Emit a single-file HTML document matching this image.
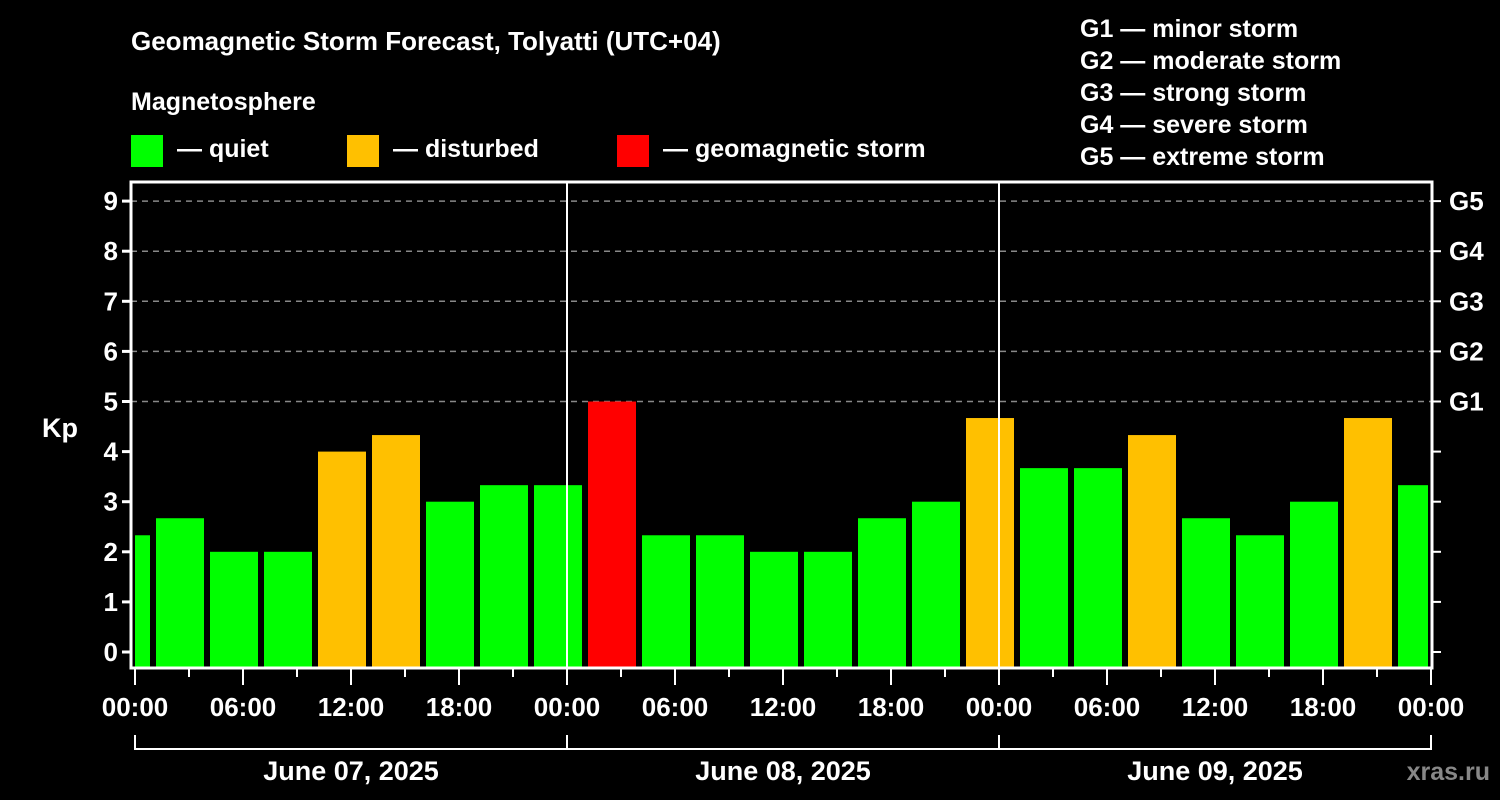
<!DOCTYPE html>
<html><head><meta charset="utf-8"><style>
html,body{margin:0;padding:0;background:#000;}
svg{display:block;font-family:"Liberation Sans",Arial,sans-serif;font-weight:bold;}
</style></head><body>
<svg id="chart" width="1500" height="800" viewBox="0 0 1500 800">
<rect width="1500" height="800" fill="#000"/>
<text x="131" y="50" fill="#fff" font-size="26">Geomagnetic Storm Forecast, Tolyatti (UTC+04)</text>
<text x="131" y="110" fill="#fff" font-size="25">Magnetosphere</text>
<g><rect x="131" y="135" width="32" height="32" fill="#00ff00"/><text x="177" y="157" fill="#fff" font-size="25">— quiet</text></g>
<g><rect x="347" y="135" width="32" height="32" fill="#ffc000"/><text x="393" y="157" fill="#fff" font-size="25">— disturbed</text></g>
<g><rect x="617" y="135" width="32" height="32" fill="#ff0000"/><text x="663" y="157" fill="#fff" font-size="25">— geomagnetic storm</text></g>
<g fill="#fff" font-size="25">
<text x="1080" y="37">G1 — minor storm</text>
<text x="1080" y="69">G2 — moderate storm</text>
<text x="1080" y="101">G3 — strong storm</text>
<text x="1080" y="133">G4 — severe storm</text>
<text x="1080" y="165">G5 — extreme storm</text>
</g>
<text x="42" y="437" fill="#fff" font-size="27">Kp</text>
<g id="grid"></g><g id="bars"></g><g id="axes"></g>
<text x="1490" y="780" fill="#888" font-size="25" text-anchor="end">xras.ru</text>
</svg>
<script>
const kpValues=[2.33,2.67,2,2,4,4.33,3,3.33,3.33,5,2.33,2.33,2,2,2.67,3,4.67,3.67,3.67,4.33,2.67,2.33,3,4.67,3.33];
const yTicks=[0,1,2,3,4,5,6,7,8,9];
const gLabels=["G1","G2","G3","G4","G5"];
const xTickLabels=["00:00","06:00","12:00","18:00","00:00","06:00","12:00","18:00","00:00","06:00","12:00","18:00","00:00"];
const dayLabels=["June 07, 2025","June 08, 2025","June 09, 2025"];
const NS="http://www.w3.org/2000/svg";
const L=131,R=1432,T=182,B=668,X0=135,PXH=18;
const xH=h=>X0+h*PXH;
const yK=k=>652-k*50.1;
function mk(tag,attrs,parent,txt){const e=document.createElementNS(NS,tag);for(const k in attrs)e.setAttribute(k,attrs[k]);if(txt!==undefined)e.textContent=txt;parent.appendChild(e);return e;}
const grid=document.getElementById('grid'),bars=document.getElementById('bars'),axes=document.getElementById('axes');
for(let k=5;k<=9;k++){const l=mk('line',{x1:L,x2:R,y1:yK(k),y2:yK(k),stroke:'#888','stroke-width':1.5,'stroke-dasharray':'6,5'},grid);

}
kpValues.forEach((v,i)=>{let h0=1+3*(i-1),h1=h0+3;let x0=xH(h0)+3,x1=xH(h1)-3;x0=Math.max(x0,X0);x1=Math.min(x1,R-4);
const c=v>=5?'#ff0000':(v>=4?'#ffc000':'#00ff00');
const r=mk('rect',{x:x0,y:yK(v),width:x1-x0,height:B-yK(v),fill:c},bars);

});
[567,999].forEach(x=>{const l=mk('line',{x1:x,x2:x,y1:T,y2:B,stroke:'#fff','stroke-width':2},axes);

});
const fr=mk('rect',{x:L,y:T,width:R-L,height:B-T,fill:'none',stroke:'#fff','stroke-width':3},axes);


yTicks.forEach(k=>{mk('line',{x1:L-9,x2:L,y1:yK(k),y2:yK(k),stroke:'#fff','stroke-width':3},axes);
const t=mk('text',{x:118,y:yK(k)+9,fill:'#fff','font-size':26,'text-anchor':'end'},axes,String(k));


mk('line',{x1:R,x2:R+9,y1:yK(k),y2:yK(k),stroke:'#fff','stroke-width':2},axes);});
gLabels.forEach((g,i)=>{const t=mk('text',{x:1449,y:yK(5+i)+9,fill:'#fff','font-size':26},axes,g);

});
for(let h=0;h<=72;h+=3){const major=h%6===0;mk('line',{x1:xH(h),x2:xH(h),y1:B,y2:B+(major?17:9),stroke:'#fff','stroke-width':2},axes);}
xTickLabels.forEach((s,i)=>{const t=mk('text',{x:xH(i*6),y:716,fill:'#fff','font-size':26,'text-anchor':'middle'},axes,s);

});
mk('path',{d:`M${xH(0)} 735V749H${xH(72)}V735M${xH(24)} 735V749M${xH(48)} 735V749`,fill:'none',stroke:'#fff','stroke-width':2},axes);
dayLabels.forEach((s,i)=>{const t=mk('text',{x:xH(i*24+12),y:780,fill:'#fff','font-size':27,'text-anchor':'middle'},axes,s);

});
</script>
</body></html>
